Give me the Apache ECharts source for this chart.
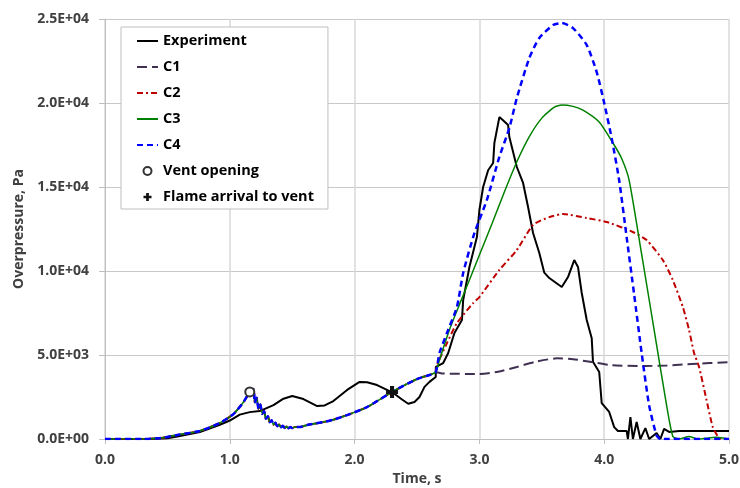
<!DOCTYPE html>
<html>
<head>
<meta charset="utf-8">
<script src="https://cdn.jsdelivr.net/npm/echarts@6/dist/echarts.min.js"></script>
<style>
  html, body { margin: 0; padding: 0; background: #fff; }
  #chart { width: 740px; height: 488px; }
</style>
</head>
<body>
<div id="chart"></div>
<script>
// time (s), overpressure (Pa)
const experiment = [
  [0, 0], [0.36, 0], [0.5, 40], [0.58, 150], [0.76, 420], [0.92, 850], [1.0, 1100],
  [1.08, 1450], [1.16, 1600], [1.24, 1660], [1.35, 2020], [1.43, 2400], [1.5, 2560],
  [1.59, 2380], [1.7, 1960], [1.76, 2000], [1.83, 2260], [1.94, 2920], [2.04, 3400],
  [2.1, 3380], [2.18, 3210], [2.31, 2740], [2.38, 2350], [2.43, 2100], [2.48, 2200],
  [2.52, 2500], [2.56, 3100], [2.6, 3400], [2.65, 3690], [2.651, 4290], [2.71, 4520],
  [2.75, 5120], [2.8, 6310], [2.86, 7080], [2.87, 8270], [2.92, 10240], [2.98, 12020],
  [3.0, 13630], [3.03, 15000], [3.07, 16000], [3.11, 16430], [3.12, 17620], [3.16, 19160],
  [3.2, 18900], [3.23, 18690], [3.24, 17970], [3.3, 16190], [3.35, 15240], [3.39, 13810],
  [3.43, 12260], [3.48, 11070], [3.52, 9900], [3.56, 9580], [3.66, 9050], [3.71, 9640],
  [3.76, 10650], [3.79, 10240], [3.82, 8690], [3.86, 7080], [3.9, 6000], [3.91, 4600],
  [3.96, 3990], [3.98, 2140], [4.04, 1610], [4.08, 710], [4.11, 480], [4.18, 480],
  [4.19, 0], [4.21, 1310], [4.23, 0], [4.26, 1010], [4.29, 0], [4.33, 650], [4.36, 0],
  [4.42, 360], [4.45, 0], [4.48, 600], [4.52, 420], [4.6, 480], [5.0, 480]
]

// all four simulations share this part until ~2.65 s
const modelCommon = [
  [0, 0], [0.3, 0], [0.45, 60], [0.58, 240], [0.76, 480], [0.92, 950], [1.03, 1490],
  [1.11, 2200], [1.16, 2800], [1.19, 2980], [1.2, 2150], [1.215, 2450], [1.23, 1800],
  [1.245, 2050], [1.26, 1500], [1.275, 1650], [1.29, 1200], [1.305, 1350], [1.32, 1000],
  [1.335, 1120], [1.35, 850], [1.365, 960], [1.38, 760], [1.395, 860], [1.41, 700],
  [1.425, 790], [1.44, 660], [1.455, 740], [1.47, 640], [1.485, 720], [1.5, 650],
  [1.52, 710], [1.56, 710], [1.62, 830], [1.75, 1010], [1.83, 1150], [1.95, 1450],
  [2.1, 1900], [2.3, 2800], [2.5, 3570], [2.6, 3810], [2.65, 3990]
]

const c1Tail = [
  [2.7, 3900], [3.0, 3870], [3.15, 4000], [3.3, 4290], [3.45, 4600], [3.62, 4800],
  [3.75, 4750], [3.9, 4580], [4.05, 4400], [4.3, 4340], [4.5, 4380], [4.7, 4460], [5.0, 4580]
]
const c2Tail = [
  [2.66, 4400], [2.74, 5710], [2.82, 6900], [2.95, 8090], [3.0, 8450], [3.16, 10060],
  [3.3, 11250], [3.43, 12740], [3.56, 13210], [3.67, 13390], [3.86, 13150], [4.02, 12920],
  [4.23, 12320], [4.34, 11840], [4.47, 10650], [4.55, 9460], [4.63, 7860], [4.68, 6490],
  [4.72, 5120], [4.76, 4290], [4.82, 2320], [4.87, 710], [4.92, 60], [4.95, 0], [5.0, 0]
]
const c3Tail = [
  [2.68, 4700], [2.76, 6500], [2.84, 8000], [2.92, 9460], [3.0, 10950], [3.1, 12800],
  [3.2, 14700], [3.3, 16500], [3.4, 18000], [3.5, 19100], [3.6, 19750], [3.66, 19880],
  [3.75, 19800], [3.83, 19580], [3.96, 18870], [4.07, 17620], [4.14, 16700], [4.2, 15400],
  [4.3, 11000], [4.4, 6500], [4.5, 2000], [4.55, 150], [4.6, 0], [4.68, 150], [4.75, 0],
  [4.9, 100], [5.0, 0]
]
const c4Tail = [
  [2.68, 5120], [2.74, 6310], [2.82, 7860], [2.87, 9880], [2.96, 12260], [3.06, 14230],
  [3.16, 16790], [3.24, 18510], [3.3, 20300], [3.4, 22680], [3.48, 23870], [3.59, 24640],
  [3.66, 24760], [3.75, 24460], [3.86, 23450], [3.94, 21840], [4.0, 20000], [4.06, 17900],
  [4.12, 15400], [4.18, 12000], [4.24, 8600], [4.3, 5120], [4.36, 2000], [4.42, 200],
  [4.45, 0], [5.0, 0]
]

const ventOpening = [[1.16, 2800]]
const flameArrival = [[2.30, 2800]]

const sci = (v) => {
  if (v === 0) return '0.0E+00'
  const e = Math.floor(Math.log10(v))
  const m = v / Math.pow(10, e)
  return m.toFixed(1) + 'E+' + String(e).padStart(2, '0')
}

const font = 'Open Sans'
const plus = 'path://M3.3,0H6.7V3.3H10V6.7H6.7V10H3.3V6.7H0V3.3H3.3Z'

const modelLine = (name, tail, color, width, dash) => ({
  name,
  type: 'line',
  data: modelCommon.concat(tail),
  smooth: 0.2,
  symbol: 'none',
  lineStyle: { color, width, type: dash },
  itemStyle: { color }
})

// legend entries for line series: show only the line sample
const lineItem = (name) => ({ name, itemStyle: { opacity: 0 } })

const chart = echarts.init(document.getElementById('chart'))
chart.setOption({
  animation: false,
  backgroundColor: '#fff',
  grid: { left: 105, right: 11, top: 19, bottom: 49, outerBoundsMode: 'none' },
  legend: {
    orient: 'vertical',
    left: 121,
    top: 27,
    padding: [6, 14, 4, 15],
    itemWidth: 21,
    itemHeight: 10,
    itemGap: 10,
    backgroundColor: '#fff',
    borderColor: '#bfbfbf',
    borderWidth: 1,
    textStyle: { fontFamily: font, fontWeight: 'bold', fontSize: 14.5, color: '#000', lineHeight: 16 },
    data: [
      lineItem('Experiment'), lineItem('C1'), lineItem('C2'), lineItem('C3'), lineItem('C4'),
      'Vent opening', 'Flame arrival to vent'
    ]
  },
  xAxis: {
    type: 'value',
    min: 0,
    max: 5,
    interval: 1,
    name: 'Time, s',
    nameLocation: 'middle',
    nameGap: 33,
    nameTextStyle: { fontFamily: font, fontWeight: 'bold', fontSize: 14, color: '#404040' },
    axisLine: { lineStyle: { color: '#bfbfbf' } },
    axisTick: { show: true, length: 5, lineStyle: { color: '#bfbfbf' } },
    axisLabel: { formatter: (v) => v.toFixed(1), fontFamily: font, fontWeight: 'bold', fontSize: 14, color: '#404040', margin: 14 },
    splitLine: { lineStyle: { color: '#d9d9d9', width: 1.5 } }
  },
  yAxis: {
    type: 'value',
    min: 0,
    max: 25000,
    interval: 5000,
    name: 'Overpressure, Pa',
    nameLocation: 'middle',
    nameGap: 71,
    nameTextStyle: { fontFamily: font, fontWeight: 'bold', fontSize: 14, color: '#404040' },
    axisLine: { show: true, lineStyle: { color: '#bfbfbf' } },
    axisTick: { show: true, length: 6, lineStyle: { color: '#bfbfbf' } },
    axisLabel: { formatter: sci, fontFamily: font, fontWeight: 'bold', fontSize: 14, color: '#404040', margin: 16 },
    splitLine: { lineStyle: { color: '#c8c8c8', width: 1 } }
  },
  series: [
    {
      name: 'Experiment',
      type: 'line',
      data: experiment,
      symbol: 'none',
      lineStyle: { color: '#000', width: 2 },
      itemStyle: { color: '#000' }
    },
    modelLine('C1', c1Tail, '#403152', 2, [10, 5]),
    modelLine('C2', c2Tail, '#c00000', 2, [6, 3, 2, 3]),
    modelLine('C3', c3Tail, '#008000', 1.5, 'solid'),
    modelLine('C4', c4Tail, '#0000ff', 2.5, [6, 4]),
    {
      name: 'Vent opening',
      type: 'line',
      data: ventOpening,
      symbol: 'emptyCircle',
      symbolSize: 9,
      lineStyle: { width: 0, opacity: 0 },
      itemStyle: { color: '#333', borderColor: '#333', borderWidth: 2 },
      z: 5
    },
    {
      name: 'Flame arrival to vent',
      type: 'line',
      data: flameArrival,
      symbol: plus,
      symbolSize: 12,
      lineStyle: { width: 0, opacity: 0 },
      itemStyle: { color: '#111' },
      z: 5
    }
  ]
})
</script>
</body>
</html>
